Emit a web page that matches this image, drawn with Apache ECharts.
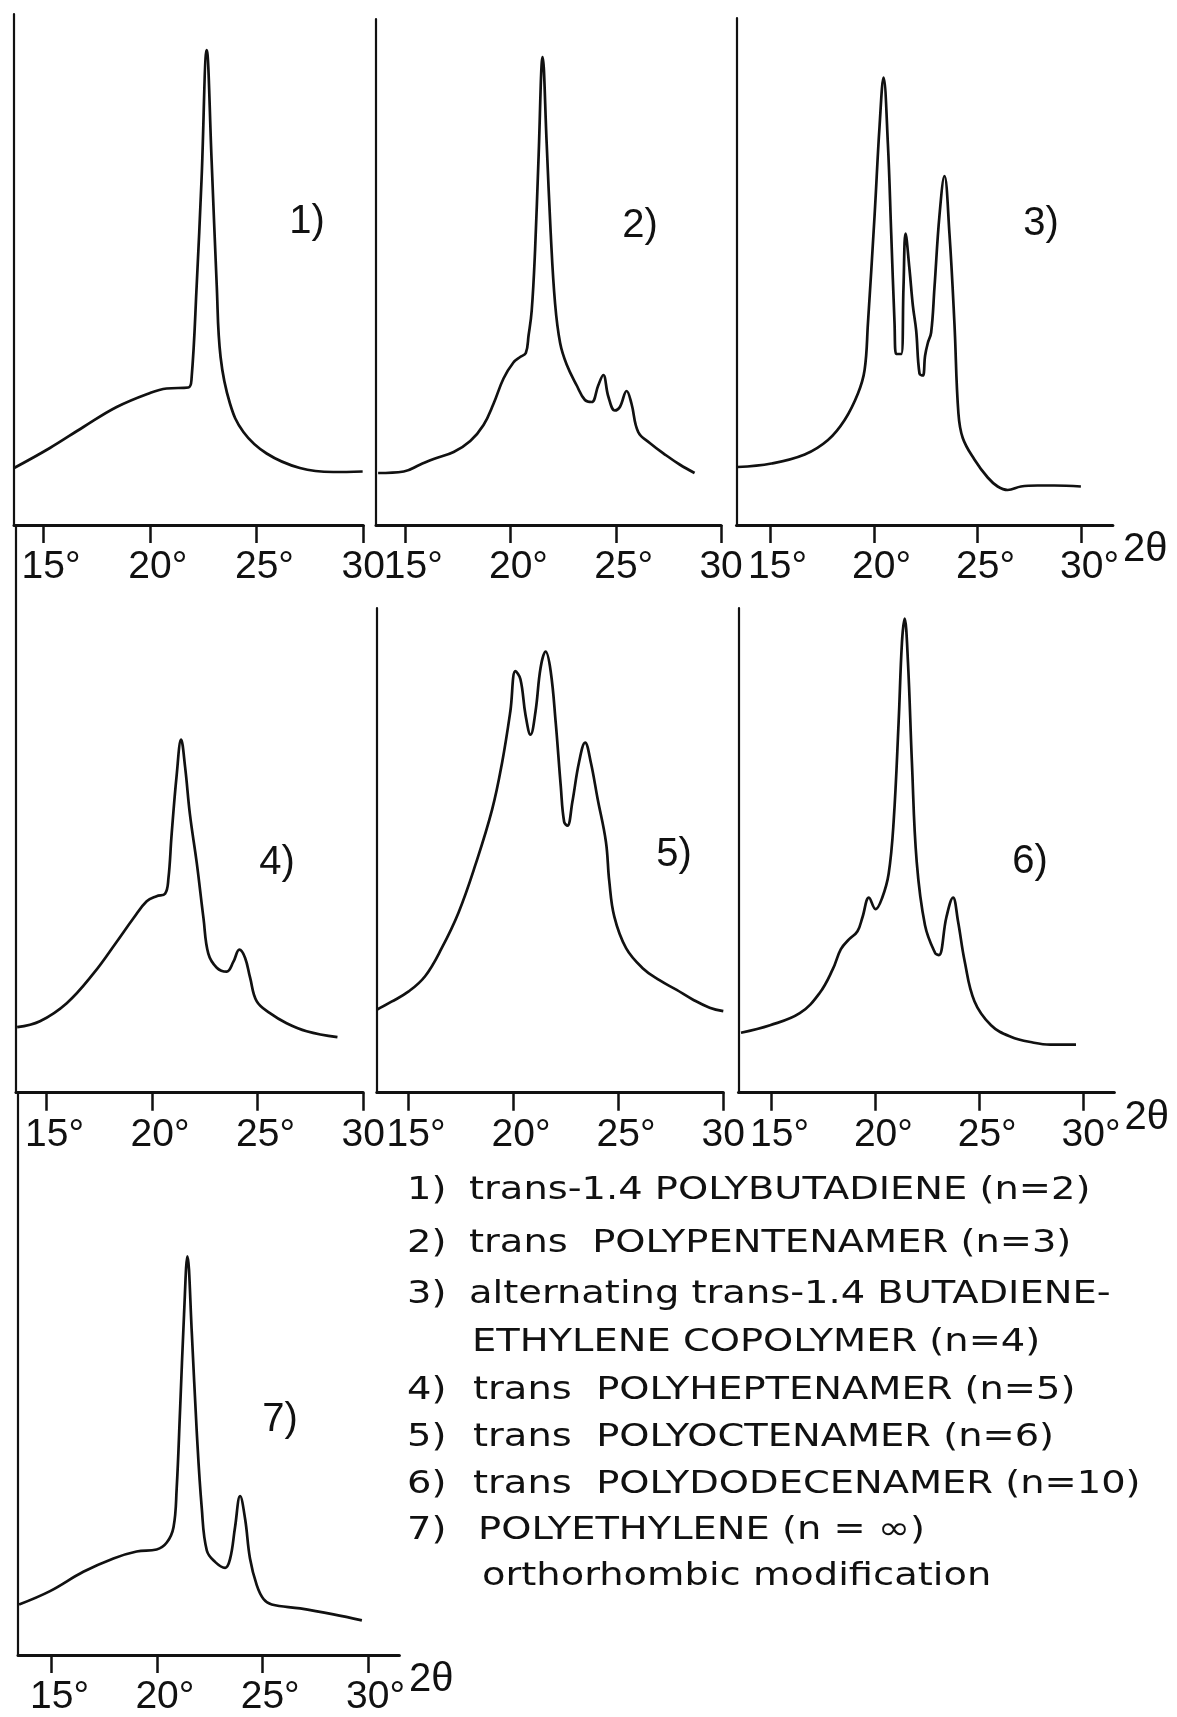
<!DOCTYPE html>
<html><head><meta charset="utf-8">
<script src="https://cdn.jsdelivr.net/npm/echarts@6/dist/echarts.min.js"></script>
<style>html,body{margin:0;padding:0;background:#fff}#c{width:1177px;height:1717px}</style>
</head><body><div id="c"></div>
<script>
// ---- data (x: 2θ in degrees, y: intensity, arbitrary units) ----
const tickValues = [15, 20, 25, 30];

const p1x = [13.63, 15.31, 16.88, 18.44, 20.0, 20.78, 21.80, 21.95, 22.19, 22.42, 22.66, 22.89, 23.13, 23.31, 23.75, 24.38, 25.47, 27.03, 28.59, 29.97];
const p1y = [11.4, 15.4, 19.6, 23.6, 26.4, 27.3, 27.5, 29.3, 47.9, 69.3, 95.0, 72.9, 47.9, 33.6, 24.3, 18.6, 14.3, 11.4, 10.6, 10.7];

const p2x = [13.7, 14.92, 15.71, 16.34, 17.29, 18.08, 18.71, 19.19, 19.66, 20.13, 20.45, 20.72, 20.85, 21.0, 21.16, 21.32, 21.52, 21.71, 21.90, 22.11, 22.35, 22.66, 23.14, 23.53, 23.85, 24.16, 24.40, 24.64, 24.95, 25.19, 25.51, 25.74, 26.06, 26.61, 27.40, 28.03, 28.74];
const p2y = [10.4, 10.7, 12.1, 13.2, 14.6, 16.8, 20.0, 24.3, 29.3, 32.5, 33.6, 34.4, 37.9, 42.9, 55.0, 72.9, 93.6, 76.4, 58.6, 44.3, 36.4, 32.1, 27.9, 25.0, 24.6, 27.9, 30.0, 25.7, 22.9, 23.6, 26.8, 24.3, 18.6, 16.4, 13.9, 12.1, 10.4];

const p3x = [13.45, 15.08, 16.68, 17.80, 18.60, 19.24, 19.56, 19.72, 20.04, 20.28, 20.47, 20.68, 20.84, 21.0, 21.08, 21.32, 21.43, 21.53, 21.72, 21.88, 22.04, 22.20, 22.36, 22.47, 22.60, 22.76, 22.92, 23.16, 23.40, 23.64, 23.88, 24.07, 24.28, 24.84, 25.48, 25.96, 26.44, 27.08, 27.88, 28.68, 29.96];
const p3y = [11.6, 12.3, 14.1, 17.0, 21.0, 26.3, 31.0, 40.3, 61.9, 79.8, 89.5, 76.2, 58.3, 40.3, 34.2, 34.2, 47.5, 58.3, 51.1, 43.9, 38.9, 30.3, 29.9, 33.9, 36.4, 38.5, 47.5, 61.9, 69.8, 58.3, 40.3, 22.4, 17.4, 13.1, 9.5, 7.7, 7.0, 7.7, 7.9, 7.9, 7.7];

const p4x = [13.6, 14.68, 15.95, 17.21, 18.32, 19.11, 19.74, 20.21, 20.61, 20.77, 20.92, 21.16, 21.37, 21.56, 21.79, 22.11, 22.43, 22.66, 23.06, 23.53, 23.85, 24.13, 24.40, 24.64, 24.95, 25.58, 26.37, 27.32, 28.78];
const p4y = [13.1, 14.3, 17.9, 23.8, 30.2, 34.9, 38.3, 39.3, 39.8, 42.9, 51.6, 63.5, 70.6, 65.1, 55.6, 46.0, 34.9, 27.8, 25.0, 24.2, 26.2, 28.6, 27.0, 23.0, 18.3, 15.9, 13.9, 12.3, 11.1];

const p5x = [13.5, 14.20, 15.0, 15.80, 16.59, 17.39, 18.19, 18.99, 19.47, 19.86, 20.10, 20.34, 20.58, 20.82, 21.06, 21.30, 21.54, 21.78, 22.02, 22.26, 22.42, 22.58, 22.81, 23.13, 23.42, 23.69, 24.01, 24.41, 24.57, 24.81, 25.37, 26.16, 26.96, 27.76, 28.56, 29.35, 30.0];
const p5y = [16.6, 18.2, 20.2, 23.3, 28.9, 36.0, 45.5, 56.6, 66.1, 76.3, 84.3, 82.7, 75.6, 71.6, 76.3, 85.0, 88.2, 84.3, 74.0, 61.3, 54.2, 53.4, 58.1, 66.1, 70.0, 66.1, 58.9, 50.2, 42.3, 35.2, 28.9, 24.9, 22.5, 20.6, 18.6, 17.0, 16.3];

const p6x = [13.52, 14.92, 16.35, 17.30, 17.94, 18.33, 18.73, 19.13, 19.37, 19.68, 20.0, 20.32, 20.63, 20.87, 21.11, 21.27, 21.40, 21.56, 21.75, 21.98, 22.38, 22.86, 23.05, 23.41, 23.73, 23.97, 24.29, 24.76, 25.56, 26.51, 27.62, 28.41, 29.65];
const p6y = [12.0, 13.5, 15.9, 19.9, 24.7, 28.7, 30.7, 32.3, 35.1, 39.0, 36.7, 39.0, 43.8, 54.2, 74.1, 90.0, 94.8, 86.1, 66.1, 46.2, 33.5, 28.0, 27.5, 35.1, 39.0, 34.3, 26.3, 18.3, 13.5, 11.2, 10.0, 9.6, 9.6];

const p7x = [13.45, 14.92, 16.50, 17.93, 19.03, 19.98, 20.46, 20.78, 20.93, 21.09, 21.28, 21.44, 21.65, 21.88, 22.12, 22.36, 22.75, 23.23, 23.47, 23.70, 23.94, 24.18, 24.41, 24.73, 25.05, 25.44, 26.79, 28.37, 29.72];
const p7y = [10.2, 12.9, 16.8, 19.5, 20.9, 21.3, 22.7, 25.8, 33.6, 49.3, 68.8, 80.5, 64.9, 45.3, 29.7, 21.1, 18.8, 17.6, 19.5, 25.8, 32.1, 27.4, 19.5, 14.1, 11.3, 10.2, 9.4, 8.2, 7.0];

const panelNames = ['1)', '2)', '3)', '4)', '5)', '6)', '7)'];
const legendNums = ['1)', '2)', '3)', '', '4)', '5)', '6)', '7)', ''];
const legendTexts = [
  'trans-1.4 POLYBUTADIENE (n=2)',
  'trans  POLYPENTENAMER (n=3)',
  'alternating trans-1.4 BUTADIENE-',
  'ETHYLENE COPOLYMER (n=4)',
  'trans  POLYHEPTENAMER (n=5)',
  'trans  POLYOCTENAMER (n=6)',
  'trans  POLYDODECENAMER (n=10)',
  'POLYETHYLENE (n = \u221E)',
  'orthorhombic modification'
];
const axisTitle = '2\u03B8';

// ---- styling / layout ----
const INK = '#111';
const NUMFONT = '"Liberation Sans","Arimo",sans-serif';
const TXTFONT = '"DejaVu Sans",sans-serif';

const panels = [
  {grid:{left:14.0, top:14, width:349.3, height:511},    min:13.627, max:30, deg30:false, name:false, x:p1x, y:p1y, lab:[307,222]},
  {grid:{left:376.0, top:19, width:345.1, height:506},   min:13.6, max:30,   deg30:false, name:false, x:p2x, y:p2y, lab:[640,226]},
  {grid:{left:736.5, top:18, width:376.4, height:507},   min:13.4, max:31.5, deg30:true,  name:true,  x:p3x, y:p3y, lab:[1041,224]},
  {grid:{left:16.0, top:525, width:347.2, height:567.7}, min:13.545, max:30, deg30:false, name:false, x:p4x, y:p4y, lab:[277,863]},
  {grid:{left:376.8, top:608, width:346.5, height:484.7},min:13.5, max:30,   deg30:false, name:false, x:p5x, y:p5y, lab:[674,855]},
  {grid:{left:738.5, top:608, width:375.9, height:484.7},min:13.4, max:31.5, deg30:true,  name:true,  x:p6x, y:p6y, lab:[1030,862]},
  {grid:{left:18.0, top:1092.7, width:381.4, height:567.6},min:13.4, max:31.5, deg30:true, name:true, x:p7x, y:p7y, lab:[280,1420]}
];

const richNum = {
  n: {fontSize:39, fontFamily:NUMFONT, color:INK},
  d: {fontSize:39, fontFamily:NUMFONT, color:INK},
  h: {fontSize:39, fontFamily:NUMFONT, color:'rgba(0,0,0,0)'}
};

const grid = [], xAxis = [], yAxis = [], series = [], graphic = [];
panels.forEach((p, i) => {
  grid.push(Object.assign({containLabel:false}, p.grid));
  xAxis.push({
    gridIndex:i, type:'value', min:p.min, max:p.max,
    name: p.name ? axisTitle : '', nameLocation:'end', nameGap:5,
    nameTextStyle:{fontSize:40, fontFamily:NUMFONT, color:INK, verticalAlign:'top', align:'left', padding:[5,0,0,0]},
    axisLine:{show:true, onZero:false, lineStyle:{color:INK, width:3}},
    axisTick:{show:true, customValues:tickValues, length:18, lineStyle:{color:INK, width:2.5}},
    axisLabel:{show:true, customValues:tickValues, margin:23, color:INK, fontSize:39, fontFamily:NUMFONT,
      rich:richNum,
      formatter:(v) => (v === 30 && !p.deg30) ? '{n|30}' : '{h|\u00B0}{n|' + v + '}{d|\u00B0}'},
    splitLine:{show:false}
  });
  yAxis.push({
    gridIndex:i, type:'value', min:0, max:p.grid.height/5,
    axisLine:{show:true, onZero:false, lineStyle:{color:INK, width:2.2}},
    axisTick:{show:false}, axisLabel:{show:false}, splitLine:{show:false}
  });
  series.push({
    type:'line', xAxisIndex:i, yAxisIndex:i,
    data: p.x.map((v, k) => [v, p.y[k]]),
    showSymbol:false, symbol:'none', smooth:0.4,
    lineStyle:{color:INK, width:2.7}, silent:true
  });
  graphic.push({type:'text', x:p.lab[0], y:p.lab[1], silent:true,
    style:{text:panelNames[i], fontSize:40, fontFamily:NUMFONT, fill:INK,
      align:'center', verticalAlign:'middle', textAlign:'center', textVerticalAlign:'middle'}});
});

const legY = [1191, 1244, 1295, 1343, 1391, 1438, 1485, 1531, 1577];
const legX = [469, 469, 469, 472, 473, 473, 473, 478, 482];
legendTexts.forEach((t, i) => {
  if (legendNums[i]) {
    graphic.push({type:'text', x:407, y:legY[i], scaleX:1.2, silent:true,
      style:{text:legendNums[i], fontSize:32, fontFamily:TXTFONT, fill:INK,
        align:'left', verticalAlign:'middle', textAlign:'left', textVerticalAlign:'middle'}});
  }
  graphic.push({type:'text', x:legX[i], y:legY[i], scaleX:1.2, silent:true,
    style:{text:t, fontSize:32, fontFamily:TXTFONT, fill:INK,
      align:'left', verticalAlign:'middle', textAlign:'left', textVerticalAlign:'middle'}});
});

const chart = echarts.init(document.getElementById('c'), null, {renderer:'canvas'});
chart.setOption({
  animation:false,
  backgroundColor:'#ffffff',
  grid, xAxis, yAxis, series, graphic
});
</script></body></html>
